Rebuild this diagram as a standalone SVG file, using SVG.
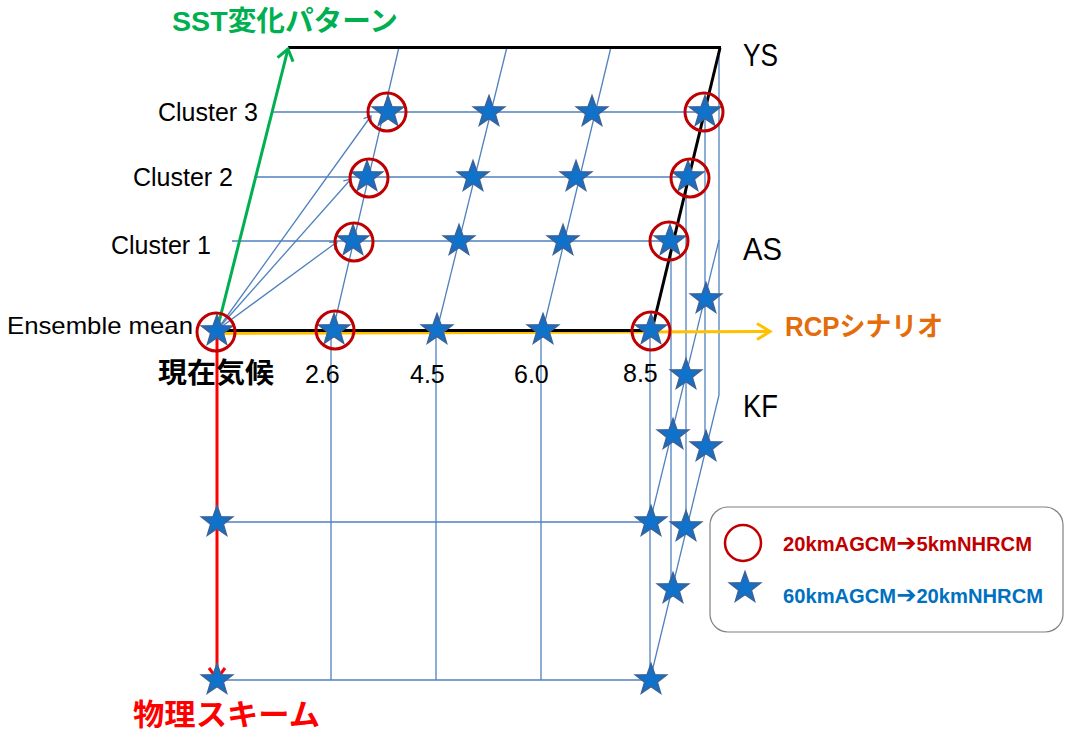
<svg xmlns="http://www.w3.org/2000/svg" width="1065" height="735" viewBox="0 0 1065 735">
<defs>
<style>
.grid{stroke:#4F81BD;stroke-width:1.3;fill:none}
.blk{stroke:#000;stroke-width:3;fill:none}
.ring{fill:none;stroke:#C00000;stroke-width:3}
.lbl{font-family:"Liberation Sans","Noto Sans CJK JP",sans-serif;fill:#000}
.jp{font-family:"Liberation Sans","Noto Sans CJK JP",sans-serif;font-weight:bold}
.leg{font-family:"Liberation Sans","DejaVu Sans",sans-serif;font-weight:bold;font-size:20px}
.arr{font-family:"DejaVu Sans",sans-serif;font-size:24px}
</style>
<radialGradient id="sg" cx="0.5" cy="0.55" r="0.55">
<stop offset="0" stop-color="#0B74CF"/>
<stop offset="0.55" stop-color="#176FC3"/>
<stop offset="1" stop-color="#33629E"/>
</radialGradient>
<path id="star" d="M0,-16.5 L3.9,-5.4 L15.7,-5.1 L6.4,2.1 L9.7,13.3 L0,6.7 L-9.7,13.3 L-6.4,2.1 L-15.7,-5.1 L-3.9,-5.4 Z" fill="url(#sg)" stroke="#3A6399" stroke-width="1.4" stroke-linejoin="miter"/>
<marker id="mg" markerUnits="userSpaceOnUse" viewBox="0 0 14 18" refX="12" refY="9" markerWidth="14" markerHeight="18" orient="auto" overflow="visible"><path d="M1,1 L12,9 L1,17" fill="none" stroke="#00B050" stroke-width="3"/></marker>
<marker id="mr" markerUnits="userSpaceOnUse" viewBox="0 0 14 18" refX="12" refY="9" markerWidth="14" markerHeight="18" orient="auto" overflow="visible"><path d="M1,1 L12,9 L1,17" fill="none" stroke="#FF0000" stroke-width="3"/></marker>
<marker id="my" markerUnits="userSpaceOnUse" viewBox="0 0 16 18" refX="14" refY="9" markerWidth="16" markerHeight="18" orient="auto" overflow="visible"><path d="M1,1 L14,9 L1,17" fill="none" stroke="#FFC000" stroke-width="3"/></marker>
<marker id="mb" markerUnits="userSpaceOnUse" viewBox="0 0 8 10" refX="7" refY="5" markerWidth="8" markerHeight="10" orient="auto" overflow="visible"><path d="M0.5,0.5 L7,5 L0.5,9.5" fill="none" stroke="#4F81BD" stroke-width="1.3"/></marker>
</defs>
<rect width="1065" height="735" fill="#fff"/>

<g id="connectors">
  <line class="grid" x1="273" y1="112" x2="704" y2="112"/>
  <line class="grid" x1="254" y1="177" x2="688" y2="177"/>
  <line class="grid" x1="232" y1="241" x2="669" y2="241"/>
  <line class="grid" x1="333" y1="330" x2="399" y2="47"/>
  <line class="grid" x1="437" y1="330" x2="507" y2="47"/>
  <line class="grid" x1="543" y1="330" x2="611" y2="47"/>
  <line class="grid" x1="217" y1="330" x2="371" y2="116" marker-end="url(#mb)"/>
  <line class="grid" x1="217" y1="330" x2="351" y2="179" marker-end="url(#mb)"/>
  <line class="grid" x1="217" y1="330" x2="337" y2="242" marker-end="url(#mb)"/>
  <line class="grid" x1="217" y1="522" x2="650" y2="522"/>
  <line class="grid" x1="217" y1="680" x2="650" y2="680"/>
  <line class="grid" x1="331" y1="330" x2="331" y2="680"/>
  <line class="grid" x1="436" y1="330" x2="436" y2="680"/>
  <line class="grid" x1="541" y1="330" x2="541" y2="680"/>
  <line class="grid" x1="650" y1="330" x2="650" y2="680"/>
  <line class="grid" x1="671" y1="241" x2="671" y2="589"/>
  <line class="grid" x1="686" y1="177" x2="686" y2="527"/>
  <line class="grid" x1="705" y1="112" x2="705" y2="447"/>
  <line class="grid" x1="719" y1="47" x2="719" y2="395"/>
  <line class="grid" x1="650" y1="522" x2="719" y2="240"/>
  <line class="grid" x1="650" y1="680" x2="719" y2="395"/>
  <line x1="217" y1="333.5" x2="770" y2="331.5" stroke="#FFC000" stroke-width="3" marker-end="url(#my)"/>
  <line class="blk" x1="217" y1="330.5" x2="652" y2="330.5"/>
  <line class="blk" x1="288" y1="47.5" x2="721" y2="47.5"/>
  <line class="blk" x1="720" y1="48" x2="652" y2="330"/>
  <line x1="217" y1="330" x2="288" y2="49" stroke="#00B050" stroke-width="3" marker-end="url(#mg)"/>
  <line x1="217" y1="336" x2="217" y2="679" stroke="#FF0000" stroke-width="3" marker-end="url(#mr)"/>
</g>

<g id="n-present"><use href="#star" x="217" y="331"/><circle class="ring" cx="216" cy="332" r="19"/></g>
<g id="n-rcp26"><use href="#star" x="334" y="330"/><circle class="ring" cx="335" cy="330" r="19"/></g>
<g id="n-rcp45"><use href="#star" x="437" y="330"/></g>
<g id="n-rcp60"><use href="#star" x="543" y="330"/></g>
<g id="n-rcp85"><use href="#star" x="651" y="330"/><circle class="ring" cx="651" cy="331" r="19"/></g>

<g id="n-c1-26"><use href="#star" x="353" y="241"/><circle class="ring" cx="354" cy="242" r="19"/></g>
<g id="n-c1-45"><use href="#star" x="459" y="241"/></g>
<g id="n-c1-60"><use href="#star" x="563" y="241"/></g>
<g id="n-c1-85"><use href="#star" x="670" y="241"/><circle class="ring" cx="669" cy="241" r="19"/></g>

<g id="n-c2-26"><use href="#star" x="367" y="177"/><circle class="ring" cx="369" cy="178" r="19"/></g>
<g id="n-c2-45"><use href="#star" x="473" y="177"/></g>
<g id="n-c2-60"><use href="#star" x="576" y="177"/></g>
<g id="n-c2-85"><use href="#star" x="688" y="177"/><circle class="ring" cx="690" cy="178" r="19"/></g>

<g id="n-c3-26"><use href="#star" x="388" y="112"/><circle class="ring" cx="387" cy="112" r="19"/></g>
<g id="n-c3-45"><use href="#star" x="489" y="112"/></g>
<g id="n-c3-60"><use href="#star" x="592" y="112"/></g>
<g id="n-c3-85"><use href="#star" x="705" y="112"/><circle class="ring" cx="704" cy="112" r="19"/></g>

<g id="n-k1-em"><use href="#star" x="217" y="522"/></g>
<g id="n-k1-85"><use href="#star" x="651" y="522"/></g>
<g id="n-k1-c1"><use href="#star" x="673" y="435"/></g>
<g id="n-k1-c2"><use href="#star" x="686" y="375"/></g>
<g id="n-k1-c3"><use href="#star" x="706" y="299"/></g>

<g id="n-k2-em"><use href="#star" x="217" y="680"/></g>
<g id="n-k2-85"><use href="#star" x="651" y="680"/></g>
<g id="n-k2-c1"><use href="#star" x="673" y="589"/></g>
<g id="n-k2-c2"><use href="#star" x="686" y="527"/></g>
<g id="n-k2-c3"><use href="#star" x="706" y="447"/></g>

<g id="labels">
  <text class="jp" x="172" y="31" font-size="28" fill="#00B050" textLength="226" lengthAdjust="spacingAndGlyphs">SST変化パターン</text>
  <text class="jp" x="785" y="336" font-size="27" fill="#E46C0A" textLength="158" lengthAdjust="spacingAndGlyphs">RCPシナリオ</text>
  <text class="jp" x="133" y="725" font-size="30" fill="#FF0000" textLength="187" lengthAdjust="spacingAndGlyphs">物理スキーム</text>
  <text class="jp" x="158" y="383" font-size="28" fill="#000" textLength="116" lengthAdjust="spacingAndGlyphs">現在気候</text>
  <text class="lbl" x="258" y="121" font-size="25" text-anchor="end">Cluster 3</text>
  <text class="lbl" x="233" y="186" font-size="25" text-anchor="end">Cluster 2</text>
  <text class="lbl" x="211" y="254" font-size="25" text-anchor="end">Cluster 1</text>
  <text class="lbl" x="7" y="334" font-size="24" textLength="186" lengthAdjust="spacingAndGlyphs">Ensemble mean</text>
  <text class="lbl" x="305" y="383" font-size="25">2.6</text>
  <text class="lbl" x="410" y="383" font-size="25">4.5</text>
  <text class="lbl" x="514" y="383" font-size="25">6.0</text>
  <text class="lbl" x="623" y="382" font-size="25">8.5</text>
  <text class="lbl" x="743" y="66" font-size="32" textLength="35" lengthAdjust="spacingAndGlyphs">YS</text>
  <text class="lbl" x="743" y="260" font-size="31" textLength="39" lengthAdjust="spacingAndGlyphs">AS</text>
  <text class="lbl" x="743" y="417" font-size="31" textLength="35" lengthAdjust="spacingAndGlyphs">KF</text>
</g>

<g id="legend">
  <rect x="710" y="507" width="353" height="125" rx="18" ry="18" fill="#fff" stroke="#808080" stroke-width="1.2"/>
  <circle cx="743" cy="543" r="18" fill="none" stroke="#C00000" stroke-width="2.5"/>
  <use href="#star" x="745" y="588"/>
  <text class="leg" x="783" y="551" fill="#C00000" textLength="249" lengthAdjust="spacingAndGlyphs">20kmAGCM<tspan class="arr">➔</tspan>5kmNHRCM</text>
  <text class="leg" x="783" y="603" fill="#0070C0" textLength="260" lengthAdjust="spacingAndGlyphs">60kmAGCM<tspan class="arr">➔</tspan>20kmNHRCM</text>
</g>
</svg>
